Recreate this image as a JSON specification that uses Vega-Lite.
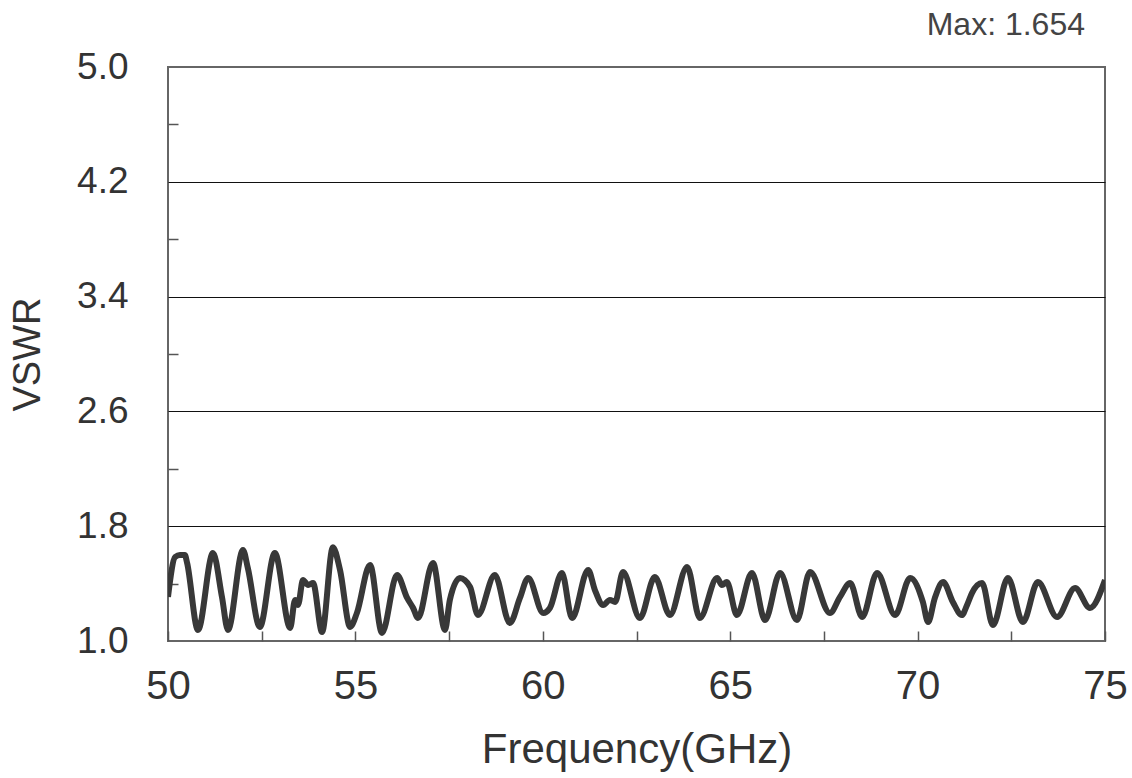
{
  "$schema": "https://vega.github.io/schema/vega-lite/v6.json",
  "width": 937,
  "height": 574,
  "autosize": {"type": "none"},
  "padding": {"left": 168, "top": 67, "right": 27, "bottom": 137},
  "background": "white",
  "config": {
    "view": {"stroke": "#666666", "strokeWidth": 2},
    "font": "Liberation Sans"
  },
  "layer": [
    {
      "data": {
        "values": [
          {"f": 50.00, "v": 1.307}, {"f": 50.19, "v": 1.585}, {"f": 50.32, "v": 1.599}, {"f": 50.45, "v": 1.599},
          {"f": 50.51, "v": 1.544}, {"f": 50.80, "v": 1.077}, {"f": 51.20, "v": 1.613}, {"f": 51.44, "v": 1.307},
          {"f": 51.60, "v": 1.077}, {"f": 52.00, "v": 1.634}, {"f": 52.13, "v": 1.509}, {"f": 52.45, "v": 1.098},
          {"f": 52.85, "v": 1.613}, {"f": 53.26, "v": 1.091}, {"f": 53.39, "v": 1.286}, {"f": 53.47, "v": 1.251},
          {"f": 53.60, "v": 1.425}, {"f": 53.74, "v": 1.390}, {"f": 53.87, "v": 1.404}, {"f": 54.11, "v": 1.063},
          {"f": 54.40, "v": 1.654}, {"f": 54.59, "v": 1.495}, {"f": 54.86, "v": 1.098}, {"f": 55.04, "v": 1.195},
          {"f": 55.39, "v": 1.530}, {"f": 55.71, "v": 1.056}, {"f": 56.11, "v": 1.460}, {"f": 56.38, "v": 1.300},
          {"f": 56.54, "v": 1.230}, {"f": 56.67, "v": 1.160}, {"f": 57.07, "v": 1.544}, {"f": 57.39, "v": 1.077},
          {"f": 57.52, "v": 1.286}, {"f": 57.79, "v": 1.439}, {"f": 58.06, "v": 1.376}, {"f": 58.27, "v": 1.181},
          {"f": 58.72, "v": 1.460}, {"f": 59.12, "v": 1.125}, {"f": 59.39, "v": 1.300}, {"f": 59.61, "v": 1.439},
          {"f": 60.01, "v": 1.195}, {"f": 60.19, "v": 1.230}, {"f": 60.51, "v": 1.474}, {"f": 60.78, "v": 1.160},
          {"f": 61.21, "v": 1.495}, {"f": 61.39, "v": 1.355}, {"f": 61.61, "v": 1.251}, {"f": 61.79, "v": 1.286},
          {"f": 61.93, "v": 1.272}, {"f": 62.14, "v": 1.481}, {"f": 62.59, "v": 1.160}, {"f": 62.99, "v": 1.446},
          {"f": 63.39, "v": 1.181}, {"f": 63.85, "v": 1.516}, {"f": 64.19, "v": 1.160}, {"f": 64.65, "v": 1.439},
          {"f": 64.78, "v": 1.390}, {"f": 64.91, "v": 1.411}, {"f": 65.18, "v": 1.181}, {"f": 65.58, "v": 1.474},
          {"f": 65.93, "v": 1.146}, {"f": 66.33, "v": 1.474}, {"f": 66.78, "v": 1.146}, {"f": 67.13, "v": 1.481},
          {"f": 67.66, "v": 1.195}, {"f": 67.93, "v": 1.307}, {"f": 68.20, "v": 1.404}, {"f": 68.52, "v": 1.167},
          {"f": 68.92, "v": 1.474}, {"f": 69.40, "v": 1.181}, {"f": 69.80, "v": 1.439}, {"f": 70.14, "v": 1.272},
          {"f": 70.28, "v": 1.132}, {"f": 70.46, "v": 1.300}, {"f": 70.68, "v": 1.411}, {"f": 70.94, "v": 1.272},
          {"f": 71.18, "v": 1.181}, {"f": 71.32, "v": 1.251}, {"f": 71.45, "v": 1.334}, {"f": 71.72, "v": 1.404},
          {"f": 72.01, "v": 1.111}, {"f": 72.41, "v": 1.439}, {"f": 72.81, "v": 1.132}, {"f": 73.21, "v": 1.411},
          {"f": 73.72, "v": 1.167}, {"f": 74.20, "v": 1.369}, {"f": 74.60, "v": 1.230}, {"f": 75.00, "v": 1.425}
        ]
      },
      "mark": {"type": "line", "interpolate": "monotone", "strokeWidth": 6, "color": "#383838", "clip": true},
      "encoding": {
        "x": {
          "field": "f",
          "type": "quantitative",
          "scale": {"domain": [50, 75], "nice": false, "zero": false},
          "axis": {
            "values": [50, 52.5, 55, 57.5, 60, 62.5, 65, 67.5, 70, 72.5, 75],
            "labelExpr": "datum.value % 5 == 0 ? datum.label : ''",
            "format": "d",
            "labelOverlap": false,
            "labelFlush": false,
            "labelFontSize": 40,
            "labelColor": "#333333",
            "labelPadding": 35,
            "tickSize": -10,
            "tickColor": "#555555",
            "tickWidth": 1.5,
            "domain": false,
            "grid": false,
            "title": "Frequency(GHz)",
            "titleFontSize": 42,
            "titleFontWeight": "normal",
            "titleColor": "#333333",
            "titlePadding": 23
          }
        },
        "y": {
          "field": "v",
          "type": "quantitative",
          "scale": {"domain": [1, 5], "nice": false, "zero": false},
          "axis": {
            "values": [1.0, 1.4, 1.8, 2.2, 2.6, 3.0, 3.4, 3.8, 4.2, 4.6, 5.0],
            "labelExpr": "round(datum.value*10) % 8 == 2 ? datum.label : ''",
            "format": ".1f",
            "labelOverlap": false,
            "labelFlush": false,
            "labelFontSize": 37,
            "labelColor": "#333333",
            "labelPadding": 50,
            "tickSize": -10,
            "tickColor": "#555555",
            "tickWidth": 1.5,
            "tickOpacity": {"condition": {"test": "round(datum.value*10) % 8 == 6", "value": 1}, "value": 0},
            "domain": false,
            "grid": true,
            "gridColor": "#111111",
            "gridWidth": 1.2,
            "gridOpacity": {"condition": {"test": "round(datum.value*10) % 8 == 2 && datum.value > 1.1 && datum.value < 4.9", "value": 1}, "value": 0},
            "title": "VSWR",
            "titleFontSize": 38,
            "titleFontWeight": "normal",
            "titleColor": "#333333",
            "titlePadding": 29
          }
        }
      }
    },
    {
      "data": {"values": [{"label": "Max: 1.654", "f": 75, "v": 5}]},
      "mark": {"type": "text", "align": "right", "baseline": "alphabetic", "dx": -20, "dy": -32, "fontSize": 32, "color": "#444444", "clip": false},
      "encoding": {
        "x": {"field": "f", "type": "quantitative"},
        "y": {"field": "v", "type": "quantitative"},
        "text": {"field": "label"}
      }
    }
  ]
}
